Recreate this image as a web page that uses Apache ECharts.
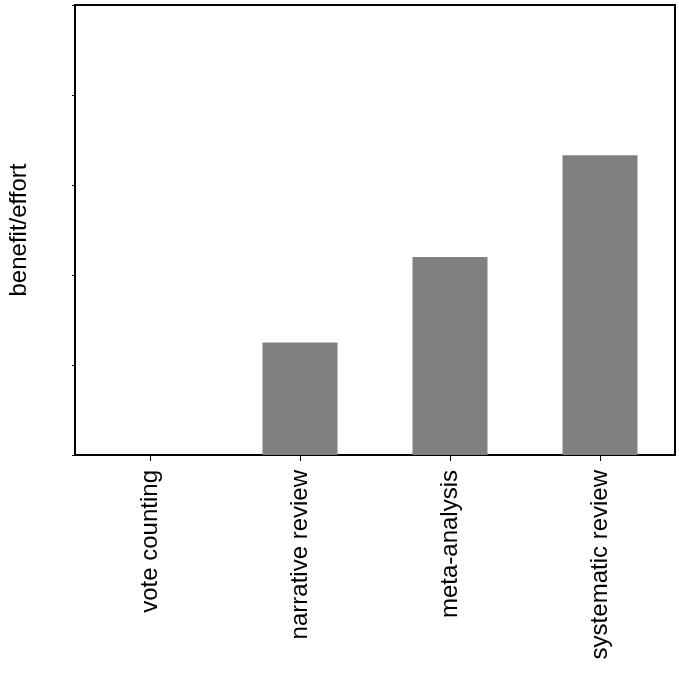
<!DOCTYPE html>
<html>
<head>
<meta charset="utf-8">
<script src="https://cdn.jsdelivr.net/npm/echarts@6/dist/echarts.min.js"></script>
<style>
html,body{margin:0;padding:0;background:#fff;}
#chart{width:679px;height:677px;}
</style>
</head>
<body>
<div id="chart"></div>
<script>
const categories = ['vote counting', 'narrative review', 'meta-analysis', 'systematic review'];
const benefitEffort = [0, 1.25, 2.2, 3.33];
const yTicks = [0, 1, 2, 3, 4, 5];

const chart = echarts.init(document.getElementById('chart'), null, {renderer: 'canvas'});
const font = '"Liberation Sans", Arial, Helvetica, sans-serif';
chart.setOption({
  animation: false,
  backgroundColor: '#fff',
  grid: {
    left: 75, right: 4, top: 5, bottom: 222,
    outerBoundsMode: 'none',
    containLabel: false,
    show: true, borderColor: '#000', borderWidth: 2, backgroundColor: 'transparent'
  },
  xAxis: {
    type: 'category',
    data: categories,
    boundaryGap: true,
    axisLine: {show: true, lineStyle: {color: '#000', width: 2}},
    axisTick: {show: true, alignWithLabel: true, length: 6, lineStyle: {color: '#000', width: 1}},
    axisLabel: {
      rotate: 90, margin: 15, fontSize: 24, color: '#000', fontFamily: font, interval: 0,
      padding: [13, 0, 0, 0]
    },
    splitLine: {show: false}
  },
  yAxis: {
    type: 'value',
    min: yTicks[0],
    max: yTicks[yTicks.length - 1],
    interval: 1,
    name: 'benefit/effort',
    nameLocation: 'middle',
    nameGap: 44,
    nameTextStyle: {fontSize: 24, color: '#000', fontFamily: font},
    axisLine: {show: true, lineStyle: {color: '#000', width: 2}},
    axisTick: {show: true, length: 3, lineStyle: {color: '#000', width: 1}},
    axisLabel: {show: false},
    splitLine: {show: false}
  },
  series: [{
    type: 'bar',
    data: benefitEffort,
    barWidth: '50%',
    itemStyle: {color: '#808080'}
  }]
});
</script>
</body>
</html>
